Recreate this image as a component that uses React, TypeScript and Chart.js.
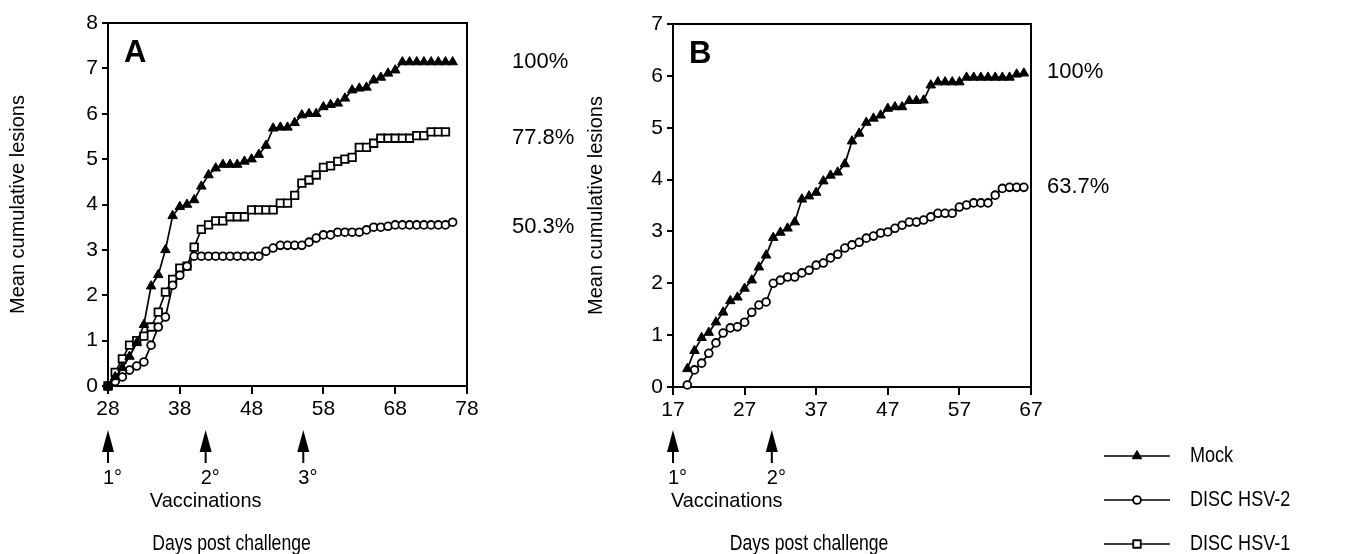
import React, { useEffect, useRef } from "react";
import { Chart, registerables } from "chart.js";

Chart.register(...registerables);

const FONT = '"Liberation Sans", Arial, Helvetica, sans-serif';

// ---------------- Data ----------------
const daysA = [28, 29, 30, 31, 32, 33, 34, 35, 36, 37, 38, 39, 40, 41, 42, 43, 44, 45, 46, 47, 48, 49, 50, 51, 52, 53, 54, 55, 56, 57, 58, 59, 60, 61, 62, 63, 64, 65, 66, 67, 68, 69, 70, 71, 72, 73, 74, 75, 76];
const mockA = [0, 0.2, 0.4, 0.65, 0.95, 1.35, 2.2, 2.45, 3.0, 3.75, 3.95, 4.0, 4.1, 4.4, 4.65, 4.8, 4.88, 4.88, 4.88, 4.95, 5.0, 5.1, 5.3, 5.68, 5.7, 5.7, 5.8, 5.97, 6.0, 6.0, 6.15, 6.2, 6.23, 6.34, 6.52, 6.56, 6.58, 6.74, 6.8, 6.89, 6.96, 7.14, 7.14, 7.14, 7.14, 7.14, 7.14, 7.14, 7.14];
const hsv2A = [0, 0.1, 0.2, 0.35, 0.44, 0.53, 0.9, 1.3, 1.52, 2.22, 2.44, 2.64, 2.86, 2.86, 2.86, 2.86, 2.86, 2.86, 2.86, 2.86, 2.86, 2.86, 2.97, 3.04, 3.1, 3.1, 3.1, 3.1, 3.17, 3.26, 3.33, 3.33, 3.39, 3.39, 3.39, 3.39, 3.44, 3.5, 3.5, 3.52, 3.55, 3.55, 3.55, 3.55, 3.55, 3.55, 3.55, 3.55, 3.61];
const hsv1A = [0, 0.3, 0.6, 0.9, 1.0, 1.1, 1.3, 1.63, 2.07, 2.35, 2.6, 2.64, 3.06, 3.45, 3.55, 3.64, 3.64, 3.73, 3.73, 3.73, 3.88, 3.88, 3.88, 3.88, 4.03, 4.03, 4.2, 4.47, 4.54, 4.65, 4.82, 4.85, 4.95, 5.0, 5.04, 5.26, 5.26, 5.35, 5.46, 5.46, 5.46, 5.46, 5.46, 5.52, 5.52, 5.6, 5.6, 5.6];

const daysB = [19, 20, 21, 22, 23, 24, 25, 26, 27, 28, 29, 30, 31, 32, 33, 34, 35, 36, 37, 38, 39, 40, 41, 42, 43, 44, 45, 46, 47, 48, 49, 50, 51, 52, 53, 54, 55, 56, 57, 58, 59, 60, 61, 62, 63, 64, 65, 66];
const mockB = [0.35, 0.7, 0.95, 1.05, 1.25, 1.44, 1.66, 1.73, 1.9, 2.06, 2.31, 2.54, 2.88, 2.98, 3.06, 3.18, 3.62, 3.68, 3.75, 3.97, 4.08, 4.14, 4.3, 4.74, 4.89, 5.1, 5.18, 5.24, 5.37, 5.4, 5.4, 5.52, 5.52, 5.53, 5.82, 5.88, 5.88, 5.88, 5.88, 5.97, 5.97, 5.97, 5.97, 5.97, 5.97, 5.97, 6.03, 6.05];
const hsv2B = [0.04, 0.33, 0.46, 0.65, 0.85, 1.04, 1.14, 1.16, 1.25, 1.44, 1.58, 1.64, 2.0, 2.06, 2.12, 2.12, 2.2, 2.25, 2.35, 2.39, 2.49, 2.56, 2.68, 2.74, 2.79, 2.87, 2.91, 2.97, 2.99, 3.06, 3.12, 3.18, 3.18, 3.22, 3.28, 3.35, 3.35, 3.35, 3.47, 3.51, 3.55, 3.55, 3.55, 3.7, 3.83, 3.85, 3.85, 3.85];

const xTicksA = [28, 38, 48, 58, 68, 78];
const xTicksB = [17, 27, 37, 47, 57, 67];
const yTicksA = [0, 1, 2, 3, 4, 5, 6, 7, 8];
const yTicksB = [0, 1, 2, 3, 4, 5, 6, 7];

const seriesNames = ["Mock", "DISC HSV-2", "DISC HSV-1"];

const pctLabelsA = ["100%", "77.8%", "50.3%"];
const pctValuesA = [7.14, 5.46, 3.5];
const pctLabelsB = ["100%", "63.7%"];
const pctValuesB = [6.07, 3.85];

const vaccDaysA = [28, 41.6, 55.2];
const vaccLabelsA = ["1°", "2°", "3°"];
const vaccTextDayA = 41.6;
const xTitleDayA = 45.2;
const vaccDaysB = [17, 30.8];
const vaccLabelsB = ["1°", "2°"];
const vaccTextDayB = 24.5;
const xTitleDayB = 36;

// ---------------- Styles ----------------
type MarkerKind = "triangle" | "circle" | "rect";
const seriesMarkers: MarkerKind[] = ["triangle", "circle", "rect"];

function styleFor(kind: MarkerKind) {
  if (kind === "triangle") {
    return { pointStyle: "triangle", pointRadius: 5.5, pointBackgroundColor: "#000", pointBorderColor: "#000", pointBorderWidth: 1 };
  }
  if (kind === "circle") {
    return { pointStyle: "circle", pointRadius: 3.9, pointBackgroundColor: "#fff", pointBorderColor: "#000", pointBorderWidth: 1.8 };
  }
  return { pointStyle: "rect", pointRadius: 5.3, pointBackgroundColor: "#fff", pointBorderColor: "#000", pointBorderWidth: 1.8 };
}

function makeDataset(label: string, days: number[], values: number[], kind: MarkerKind) {
  return {
    label,
    data: values.map((v, i) => ({ x: days[i], y: v })),
    borderColor: "#000",
    borderWidth: 1.7,
    tension: 0,
    clip: false as any,
    ...styleFor(kind),
  };
}

function drawMarker(ctx: CanvasRenderingContext2D, kind: MarkerKind, x: number, y: number) {
  ctx.save();
  ctx.strokeStyle = "#000";
  ctx.beginPath();
  if (kind === "triangle") {
    const r = 5.5;
    ctx.moveTo(x, y - r);
    ctx.lineTo(x + r * 0.866, y + r * 0.5);
    ctx.lineTo(x - r * 0.866, y + r * 0.5);
    ctx.closePath();
    ctx.fillStyle = "#000";
    ctx.fill();
    ctx.lineWidth = 1;
    ctx.stroke();
  } else if (kind === "circle") {
    ctx.arc(x, y, 3.9, 0, Math.PI * 2);
    ctx.fillStyle = "#fff";
    ctx.fill();
    ctx.lineWidth = 1.8;
    ctx.stroke();
  } else {
    const s = 5.3 * Math.SQRT1_2;
    ctx.rect(x - s, y - s, 2 * s, 2 * s);
    ctx.fillStyle = "#fff";
    ctx.fill();
    ctx.lineWidth = 1.8;
    ctx.stroke();
  }
  ctx.restore();
}

// text drawn with a slight horizontal condensing, like the narrow face of the original figure
function condensedText(ctx: CanvasRenderingContext2D, text: string, x: number, y: number, size: number, sx: number, align: CanvasTextAlign) {
  ctx.save();
  ctx.translate(x, y);
  ctx.scale(sx, 1);
  ctx.font = `${size}px ${FONT}`;
  ctx.textAlign = align;
  ctx.textBaseline = "middle";
  ctx.fillStyle = "#000";
  ctx.fillText(text, 0, 0);
  ctx.restore();
}

const decorPlugin = {
  id: "panelDecor",
  afterDraw(chart: any, _args: any, opts: any) {
    const { ctx, chartArea: ca, scales } = chart;
    const xs = scales.x;
    const ys = scales.y;
    ctx.save();
    ctx.strokeStyle = "#000";
    ctx.lineWidth = 2;
    ctx.beginPath();
    ctx.moveTo(ca.left, ca.top);
    ctx.lineTo(ca.right, ca.top);
    ctx.lineTo(ca.right, ca.bottom);
    ctx.stroke();

    ctx.fillStyle = "#000";
    ctx.textBaseline = "middle";
    ctx.textAlign = "left";
    ctx.font = `bold 31px ${FONT}`;
    ctx.fillText(opts.letter, ca.left + 16, ca.top + 30);

    ctx.font = `22px ${FONT}`;
    opts.pctLabels.forEach((t: string, i: number) => {
      ctx.fillText(t, ca.right + opts.pctGap, ys.getPixelForValue(opts.pctValues[i]));
    });

    opts.vaccDays.forEach((d: number, i: number) => {
      const px = xs.getPixelForValue(d);
      ctx.beginPath();
      ctx.moveTo(px, 430);
      ctx.lineTo(px + 6, 452);
      ctx.lineTo(px - 6, 452);
      ctx.closePath();
      ctx.fill();
      ctx.fillRect(px - 1, 450, 2, 13);
      ctx.font = `20px ${FONT}`;
      ctx.textAlign = "left";
      ctx.fillText(opts.vaccLabels[i], px - 5, 478);
    });
    condensedText(ctx, "Vaccinations", xs.getPixelForValue(opts.vaccTextDay), 501, 21, 0.95, "center");
    condensedText(ctx, "Days post challenge", xs.getPixelForValue(opts.xTitleDay), 544, 22, 0.8, "center");

    if (opts.legend) {
      const rows = [456, 500, 544];
      seriesNames.forEach((name, i) => {
        const y = rows[i];
        ctx.strokeStyle = "#000";
        ctx.lineWidth = 1.7;
        ctx.beginPath();
        ctx.moveTo(ca.right + 73, y);
        ctx.lineTo(ca.right + 139, y);
        ctx.stroke();
        drawMarker(ctx, seriesMarkers[i], ca.right + 106, y);
        condensedText(ctx, name, ca.right + 159, y, 22, 0.82, "left");
      });
    }
    ctx.restore();
  },
};

function makeConfig(p: {
  datasets: any[];
  xTicks: number[];
  yTicks: number[];
  padding: any;
  yWidth: number;
  xHeight: number;
  yTitlePad: number;
  decor: any;
}) {
  const tickFont = { family: FONT, size: 21 };
  return {
    type: "line" as const,
    data: { datasets: p.datasets },
    plugins: [decorPlugin],
    options: {
      animation: false as const,
      responsive: false,
      devicePixelRatio: 1,
      layout: { padding: p.padding },
      plugins: {
        legend: { display: false },
        tooltip: { enabled: false },
        panelDecor: p.decor,
      },
      scales: {
        x: {
          type: "linear" as const,
          min: p.xTicks[0],
          max: p.xTicks[p.xTicks.length - 1],
          afterBuildTicks: (s: any) => {
            s.ticks = p.xTicks.map((v) => ({ value: v }));
          },
          afterFit: (s: any) => {
            s.height = p.xHeight;
          },
          ticks: { font: tickFont, color: "#000", padding: 3, maxRotation: 0, autoSkip: false },
          grid: { drawOnChartArea: false, drawTicks: true, tickLength: 8, color: "#000", lineWidth: 2 },
          border: { color: "#000", width: 2 },
        },
        y: {
          type: "linear" as const,
          min: p.yTicks[0],
          max: p.yTicks[p.yTicks.length - 1],
          afterBuildTicks: (s: any) => {
            s.ticks = p.yTicks.map((v) => ({ value: v }));
          },
          afterFit: (s: any) => {
            s.width = p.yWidth;
          },
          ticks: { font: tickFont, color: "#000", padding: 4 },
          grid: { drawOnChartArea: false, drawTicks: true, tickLength: 6, color: "#000", lineWidth: 2 },
          border: { color: "#000", width: 2 },
          title: {
            display: true,
            text: "Mean cumulative lesions",
            color: "#000",
            font: { family: FONT, size: 20, lineHeight: 1.2 },
            padding: { top: p.yTitlePad, bottom: 0 },
          },
        },
      },
    },
  };
}

function Panel(props: { left: number; width: number; config: any }) {
  const ref = useRef<HTMLCanvasElement | null>(null);
  useEffect(() => {
    if (!ref.current) return;
    const chart = new Chart(ref.current, props.config);
    return () => chart.destroy();
  }, []);
  return (
    <canvas
      ref={ref}
      width={props.width}
      height={554}
      style={{ position: "absolute", left: props.left, top: 0, width: props.width, height: 554 }}
    />
  );
}

export default function App() {
  const configA = makeConfig({
    datasets: [
      makeDataset(seriesNames[0], daysA, mockA, "triangle"),
      makeDataset(seriesNames[1], daysA, hsv2A, "circle"),
      makeDataset(seriesNames[2], daysA.slice(0, hsv1A.length), hsv1A, "rect"),
    ],
    xTicks: xTicksA,
    yTicks: yTicksA,
    padding: { left: 0, top: 23, right: 133, bottom: 0 },
    yWidth: 108,
    xHeight: 168,
    yTitlePad: 6,
    decor: {
      letter: "A",
      pctLabels: pctLabelsA,
      pctValues: pctValuesA,
      pctGap: 45,
      vaccDays: vaccDaysA,
      vaccLabels: vaccLabelsA,
      vaccTextDay: vaccTextDayA,
      xTitleDay: xTitleDayA,
      legend: false,
    },
  });
  const configB = makeConfig({
    datasets: [
      makeDataset(seriesNames[0], daysB, mockB, "triangle"),
      makeDataset(seriesNames[1], daysB, hsv2B, "circle"),
    ],
    xTicks: xTicksB,
    yTicks: yTicksB,
    padding: { left: 0, top: 24, right: 318, bottom: 0 },
    yWidth: 103,
    xHeight: 167,
    yTitlePad: 14,
    decor: {
      letter: "B",
      pctLabels: pctLabelsB,
      pctValues: pctValuesB,
      pctGap: 16,
      vaccDays: vaccDaysB,
      vaccLabels: vaccLabelsB,
      vaccTextDay: vaccTextDayB,
      xTitleDay: xTitleDayB,
      legend: true,
    },
  });
  return (
    <div style={{ position: "absolute", left: 0, top: 0, width: 1349, height: 554, background: "#fff", overflow: "hidden" }}>
      <Panel left={0} width={600} config={configA} />
      <Panel left={570} width={779} config={configB} />
    </div>
  );
}
